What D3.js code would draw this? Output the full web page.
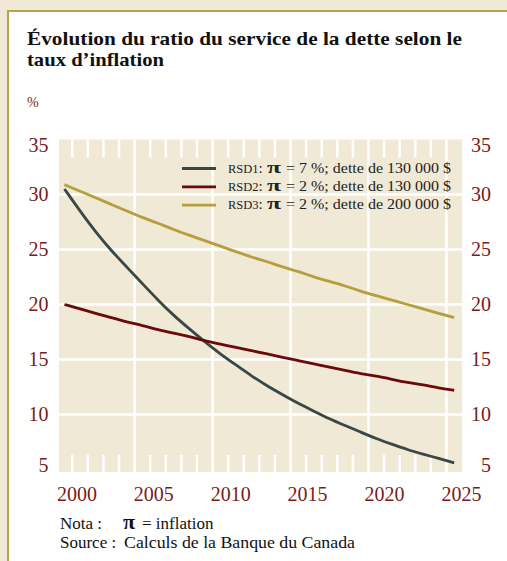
<!DOCTYPE html>
<html>
<head>
<meta charset="utf-8">
<script src="https://cdn.jsdelivr.net/npm/d3@7"></script>
<style>
  body { margin: 0; background: #efe9d6; }
  svg { display: block; font-family: "Liberation Serif", "DejaVu Serif", serif; }
</style>
</head>
<body>
<div id="chart"></div>
<script>
const years = d3.range(2000, 2026);
const rsd1 = [30.5, 28.5, 26.6, 24.9, 23.4, 21.9, 20.4, 19.0, 17.8, 16.6, 15.5, 14.5, 13.5, 12.6, 11.8, 11.0, 10.3, 9.6, 9.0, 8.4, 7.8, 7.3, 6.8, 6.4, 6.0, 5.6];
const rsd2 = [20.0, 19.6, 19.2, 18.8, 18.4, 18.1, 17.7, 17.4, 17.1, 16.7, 16.4, 16.1, 15.8, 15.5, 15.2, 14.9, 14.6, 14.3, 14.0, 13.7, 13.5, 13.2, 12.9, 12.7, 12.4, 12.2];
const rsd3 = [30.9, 30.3, 29.7, 29.1, 28.5, 27.9, 27.4, 26.8, 26.3, 25.8, 25.3, 24.8, 24.3, 23.9, 23.4, 23.0, 22.5, 22.1, 21.7, 21.2, 20.8, 20.4, 20.0, 19.6, 19.2, 18.8];
const yearLabels = [2000, 2005, 2010, 2015, 2020, 2025];
const yTicks = [5, 10, 15, 20, 25, 30, 35];
const legendTags = ["RSD1", "RSD2", "RSD3"];
const legendRest = ["= 7 %; dette de 130 000 $", "= 2 %; dette de 130 000 $", "= 2 %; dette de 200 000 $"];
const colors = ["#3b4744", "#6b0a0a", "#b59e3c"];

const W = 507, H = 561;
const plot = {left: 59, right: 462, top: 139.5, bottom: 472};

const svg = d3.select("#chart")
    .append("svg")
    .attr("width", W)
    .attr("height", H);

// white panel with gold rule on top and left
svg.append("rect")
    .attr("x", 8).attr("y", 11)
    .attr("width", W - 8).attr("height", H - 11)
    .attr("fill", "#fff");
svg.append("path")
    .attr("d", `M8,${H}V11H${W}`)
    .attr("fill", "none")
    .attr("stroke", "#b9a24e")
    .attr("stroke-width", 2);

// title
svg.append("text")
    .attr("x", 27).attr("y", 45)
    .attr("font-weight", "bold")
    .attr("font-size", 19)
    .attr("textLength", 435)
    .attr("lengthAdjust", "spacingAndGlyphs")
    .attr("fill", "#111")
    .text("Évolution du ratio du service de la dette selon le");
svg.append("text")
    .attr("x", 27).attr("y", 66)
    .attr("font-weight", "bold")
    .attr("font-size", 19)
    .attr("textLength", 137)
    .attr("lengthAdjust", "spacingAndGlyphs")
    .attr("fill", "#111")
    .text("taux d’inflation");

svg.append("text")
    .attr("x", 27).attr("y", 107)
    .attr("font-size", 14)
    .attr("fill", "#7a1a1a")
    .text("%");

const x = d3.scaleLinear()
    .domain([1999.65, 2025.5])
    .range([plot.left, plot.right]);

const y = d3.scaleLinear()
    .domain([4.77, 35])
    .range([plot.bottom, plot.top]);

// label positions drift slightly from the year grid in the original
const xLabel = d3.scaleLinear()
    .domain([2000, 2025])
    .range([x(2000.8), x(2025.46)]);

const g = svg.append("g");

g.append("rect")
    .attr("x", plot.left).attr("y", plot.top)
    .attr("width", plot.right - plot.left)
    .attr("height", plot.bottom - plot.top)
    .attr("fill", "#efe9d6");

// horizontal grid
g.selectAll(".hgrid")
    .data(yTicks.filter(d => d > 5 && d < 35))
    .join("line")
    .attr("x1", plot.left).attr("x2", plot.right)
    .attr("y1", d => y(d)).attr("y2", d => y(d))
    .attr("stroke", "#fff")
    .attr("stroke-width", 2.5);

// year boundaries: full lines every 5 years, short ticks otherwise
const bounds = d3.range(2000, 2025).map(d => d + 0.5);
g.selectAll(".vgrid")
    .data(bounds)
    .join("g")
    .each(function (d) {
        const sel = d3.select(this);
        const major = (Math.round(d - 0.5) % 5) === 4;
        if (major) {
            sel.append("line")
                .attr("x1", x(d)).attr("x2", x(d))
                .attr("y1", plot.top).attr("y2", plot.bottom)
                .attr("stroke", "#fff").attr("stroke-width", 2.5);
        } else {
            sel.append("line")
                .attr("x1", x(d)).attr("x2", x(d))
                .attr("y1", plot.top).attr("y2", plot.top + 18)
                .attr("stroke", "#fff").attr("stroke-width", 2.5);
            sel.append("line")
                .attr("x1", x(d)).attr("x2", x(d))
                .attr("y1", plot.bottom - 17).attr("y2", plot.bottom)
                .attr("stroke", "#fff").attr("stroke-width", 2.5);
        }
    });

// y labels both sides, end labels nudged inwards
const nudge = d => d === 35 ? 6 : d === 5 ? -4.5 : 0;
[48.5, 491].forEach(xPos => {
    svg.selectAll(null)
        .data(yTicks)
        .join("text")
        .attr("x", xPos)
        .attr("y", d => y(d) + nudge(d))
        .attr("dy", "0.34em")
        .attr("text-anchor", "end")
        .attr("font-size", 20)
        .attr("fill", "#7a1a1a")
        .text(d => d);
});

svg.selectAll(".xlab")
    .data(yearLabels)
    .join("text")
    .attr("x", d => xLabel(d))
    .attr("y", 501)
    .attr("text-anchor", "middle")
    .attr("font-size", 20)
    .attr("fill", "#7a1a1a")
    .text(d => d);

// series
const line = d3.line()
    .x((d, i) => x(years[i]))
    .y(d => y(d))
    .curve(d3.curveBasis);

[rsd1, rsd2, rsd3].forEach((s, i) => {
    g.append("path")
        .datum(s)
        .attr("d", line)
        .attr("fill", "none")
        .attr("stroke", colors[i])
        .attr("stroke-width", 2.8);
});

// legend
const legend = svg.append("g").attr("fill", "#222");
legendTags.forEach((tag, i) => {
    const base = 172.5 + i * 18.3;
    legend.append("line")
        .attr("x1", 182).attr("x2", 216)
        .attr("y1", base - 4).attr("y2", base - 4)
        .attr("stroke", colors[i])
        .attr("stroke-width", 2.8);
    const t = legend.append("text")
        .attr("x", 228).attr("y", base)
        .attr("font-size", 15);
    t.append("tspan").attr("font-size", 12.5).text(tag);
    t.append("tspan").text(":");
    legend.append("text")
        .attr("x", 267).attr("y", base)
        .attr("font-size", 16)
        .attr("font-weight", "bold")
        .attr("textLength", 14)
        .attr("lengthAdjust", "spacingAndGlyphs")
        .text("π");
    legend.append("text")
        .attr("x", 286).attr("y", base)
        .attr("font-size", 15.5)
        .attr("textLength", 165)
        .attr("lengthAdjust", "spacingAndGlyphs")
        .text(legendRest[i]);
});

// notes
const notes = svg.append("g")
    .attr("font-size", 17)
    .attr("fill", "#111");
notes.append("text").attr("x", 60).attr("y", 529).text("Nota :");
notes.append("text").attr("x", 123).attr("y", 529)
    .attr("font-size", 22).attr("font-weight", "bold").text("π");
notes.append("text").attr("x", 142).attr("y", 529).text("= inflation");
notes.append("text").attr("x", 60).attr("y", 548).text("Source :");
notes.append("text").attr("x", 124).attr("y", 548)
    .attr("textLength", 231)
    .attr("lengthAdjust", "spacingAndGlyphs")
    .text("Calculs de la Banque du Canada");
</script>
</body>
</html>
